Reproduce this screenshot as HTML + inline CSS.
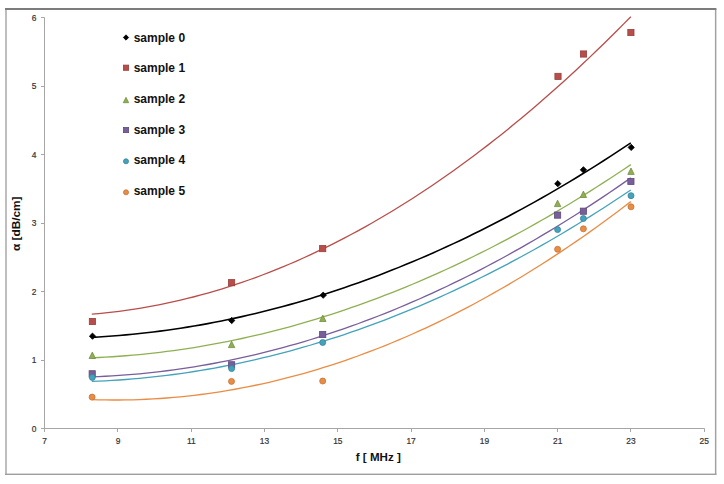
<!DOCTYPE html>
<html><head><meta charset="utf-8"><style>
html,body{margin:0;padding:0;background:#fff;}
body{width:724px;height:484px;overflow:hidden;}
svg{display:block;}
.tk{font-family:"Liberation Sans",sans-serif;font-size:8.4px;fill:#333;stroke:#333;stroke-width:0.2px;}
.lg{font-family:"Liberation Sans",sans-serif;font-size:12px;font-weight:bold;fill:#111;}
.at{font-family:"Liberation Sans",sans-serif;font-size:10px;font-weight:bold;fill:#111;}
</style></head><body>
<svg width="724" height="484" viewBox="0 0 724 484">
<rect x="0" y="0" width="724" height="484" fill="#fff"/>
<rect x="5" y="9" width="2" height="466" fill="#BEBEBE"/>
<rect x="714.9" y="9" width="1.5" height="466" fill="#A2A2A2"/>
<rect x="5" y="473.6" width="711.4" height="1.4" fill="#9E9E9E"/>
<rect x="5" y="8" width="711.4" height="2" fill="#7C7C7C"/>
<path d="M44.5 17.5V428.5H704.5" fill="none" stroke="#A6A6A6" stroke-width="1"/>
<path d="M41 428.5H44.5" stroke="#A6A6A6" stroke-width="1"/>
<path d="M41 360.5H44.5" stroke="#A6A6A6" stroke-width="1"/>
<path d="M41 291.5H44.5" stroke="#A6A6A6" stroke-width="1"/>
<path d="M41 223.5H44.5" stroke="#A6A6A6" stroke-width="1"/>
<path d="M41 154.5H44.5" stroke="#A6A6A6" stroke-width="1"/>
<path d="M41 86.5H44.5" stroke="#A6A6A6" stroke-width="1"/>
<path d="M41 17.5H44.5" stroke="#A6A6A6" stroke-width="1"/>
<path d="M44.5 428.5V432" stroke="#A6A6A6" stroke-width="1"/>
<path d="M117.5 428.5V432" stroke="#A6A6A6" stroke-width="1"/>
<path d="M191.5 428.5V432" stroke="#A6A6A6" stroke-width="1"/>
<path d="M264.5 428.5V432" stroke="#A6A6A6" stroke-width="1"/>
<path d="M337.5 428.5V432" stroke="#A6A6A6" stroke-width="1"/>
<path d="M411.5 428.5V432" stroke="#A6A6A6" stroke-width="1"/>
<path d="M484.5 428.5V432" stroke="#A6A6A6" stroke-width="1"/>
<path d="M557.5 428.5V432" stroke="#A6A6A6" stroke-width="1"/>
<path d="M630.5 428.5V432" stroke="#A6A6A6" stroke-width="1"/>
<path d="M704.5 428.5V432" stroke="#A6A6A6" stroke-width="1"/>
<text x="36.3" y="431.7" text-anchor="end" class="tk">0</text>
<text x="36.3" y="363.2" text-anchor="end" class="tk">1</text>
<text x="36.3" y="294.7" text-anchor="end" class="tk">2</text>
<text x="36.3" y="226.2" text-anchor="end" class="tk">3</text>
<text x="36.3" y="157.7" text-anchor="end" class="tk">4</text>
<text x="36.3" y="89.2" text-anchor="end" class="tk">5</text>
<text x="36.3" y="20.7" text-anchor="end" class="tk">6</text>
<text x="44.7" y="444" text-anchor="middle" class="tk">7</text>
<text x="118.0" y="444" text-anchor="middle" class="tk">9</text>
<text x="191.3" y="444" text-anchor="middle" class="tk">11</text>
<text x="264.5" y="444" text-anchor="middle" class="tk">13</text>
<text x="337.8" y="444" text-anchor="middle" class="tk">15</text>
<text x="411.1" y="444" text-anchor="middle" class="tk">17</text>
<text x="484.4" y="444" text-anchor="middle" class="tk">19</text>
<text x="557.7" y="444" text-anchor="middle" class="tk">21</text>
<text x="630.9" y="444" text-anchor="middle" class="tk">23</text>
<text x="704.2" y="444" text-anchor="middle" class="tk">25</text>
<text x="378.3" y="460.8" text-anchor="middle" class="at" textLength="45" lengthAdjust="spacingAndGlyphs">f [ MHz ]</text>
<text transform="translate(20.3,223.7) rotate(-90)" text-anchor="middle" class="at" textLength="54.5" lengthAdjust="spacingAndGlyphs">&#945; [dB/cm]</text>
<polyline points="91.80,337.35 98.62,336.97 105.45,336.54 112.27,336.05 119.09,335.51 125.91,334.91 132.74,334.26 139.56,333.56 146.38,332.80 153.21,332.00 160.03,331.13 166.85,330.22 173.67,329.25 180.50,328.23 187.32,327.15 194.14,326.03 200.96,324.84 207.79,323.61 214.61,322.32 221.43,320.98 228.26,319.58 235.08,318.13 241.90,316.63 248.72,315.08 255.55,313.47 262.37,311.81 269.19,310.09 276.02,308.32 282.84,306.50 289.66,304.63 296.48,302.70 303.31,300.72 310.13,298.68 316.95,296.59 323.77,294.45 330.60,292.26 337.42,290.01 344.24,287.71 351.07,285.35 357.89,282.94 364.71,280.48 371.53,277.97 378.36,275.40 385.18,272.78 392.00,270.10 398.83,267.37 405.65,264.59 412.47,261.76 419.29,258.87 426.12,255.93 432.94,252.93 439.76,249.88 446.58,246.78 453.41,243.63 460.23,240.42 467.05,237.16 473.88,233.84 480.70,230.48 487.52,227.05 494.34,223.58 501.17,220.05 507.99,216.47 514.81,212.83 521.64,209.15 528.46,205.40 535.28,201.61 542.10,197.76 548.93,193.86 555.75,189.91 562.57,185.90 569.39,181.84 576.22,177.72 583.04,173.55 589.86,169.33 596.69,165.06 603.51,160.73 610.33,156.35 617.15,151.91 623.98,147.42 630.80,142.88" fill="none" stroke="#000000" stroke-width="1.6"/>
<polyline points="91.80,314.12 98.62,313.53 105.45,312.86 112.27,312.11 119.09,311.28 125.91,310.36 132.74,309.37 139.56,308.29 146.38,307.14 153.21,305.90 160.03,304.58 166.85,303.17 173.67,301.69 180.50,300.12 187.32,298.48 194.14,296.75 200.96,294.94 207.79,293.05 214.61,291.08 221.43,289.02 228.26,286.89 235.08,284.67 241.90,282.37 248.72,279.99 255.55,277.53 262.37,274.99 269.19,272.36 276.02,269.66 282.84,266.87 289.66,264.00 296.48,261.05 303.31,258.02 310.13,254.90 316.95,251.71 323.77,248.43 330.60,245.08 337.42,241.64 344.24,238.12 351.07,234.51 357.89,230.83 364.71,227.07 371.53,223.22 378.36,219.29 385.18,215.28 392.00,211.19 398.83,207.02 405.65,202.76 412.47,198.43 419.29,194.01 426.12,189.51 432.94,184.93 439.76,180.27 446.58,175.53 453.41,170.70 460.23,165.80 467.05,160.81 473.88,155.74 480.70,150.59 487.52,145.36 494.34,140.05 501.17,134.65 507.99,129.18 514.81,123.62 521.64,117.98 528.46,112.26 535.28,106.46 542.10,100.57 548.93,94.61 555.75,88.56 562.57,82.43 569.39,76.23 576.22,69.93 583.04,63.56 589.86,57.11 596.69,50.57 603.51,43.96 610.33,37.26 617.15,30.48 623.98,23.62 630.80,16.67" fill="none" stroke="#B94D4A" stroke-width="1.3"/>
<polyline points="91.80,357.80 98.62,357.50 105.45,357.15 112.27,356.74 119.09,356.27 125.91,355.75 132.74,355.18 139.56,354.54 146.38,353.86 153.21,353.12 160.03,352.32 166.85,351.47 173.67,350.57 180.50,349.61 187.32,348.59 194.14,347.52 200.96,346.39 207.79,345.21 214.61,343.98 221.43,342.69 228.26,341.34 235.08,339.94 241.90,338.49 248.72,336.98 255.55,335.41 262.37,333.79 269.19,332.12 276.02,330.38 282.84,328.60 289.66,326.76 296.48,324.86 303.31,322.91 310.13,320.91 316.95,318.85 323.77,316.73 330.60,314.56 337.42,312.34 344.24,310.06 351.07,307.72 357.89,305.33 364.71,302.88 371.53,300.38 378.36,297.83 385.18,295.22 392.00,292.55 398.83,289.83 405.65,287.06 412.47,284.23 419.29,281.34 426.12,278.40 432.94,275.41 439.76,272.36 446.58,269.25 453.41,266.09 460.23,262.88 467.05,259.61 473.88,256.28 480.70,252.90 487.52,249.47 494.34,245.98 501.17,242.43 507.99,238.83 514.81,235.18 521.64,231.47 528.46,227.70 535.28,223.88 542.10,220.01 548.93,216.08 555.75,212.09 562.57,208.05 569.39,203.95 576.22,199.80 583.04,195.60 589.86,191.34 596.69,187.02 603.51,182.65 610.33,178.23 617.15,173.75 623.98,169.22 630.80,164.63" fill="none" stroke="#8FB052" stroke-width="1.3"/>
<polyline points="91.80,376.83 98.62,376.57 105.45,376.25 112.27,375.87 119.09,375.43 125.91,374.94 132.74,374.39 139.56,373.78 146.38,373.11 153.21,372.39 160.03,371.61 166.85,370.77 173.67,369.87 180.50,368.91 187.32,367.90 194.14,366.83 200.96,365.70 207.79,364.51 214.61,363.26 221.43,361.96 228.26,360.60 235.08,359.18 241.90,357.70 248.72,356.17 255.55,354.57 262.37,352.92 269.19,351.22 276.02,349.45 282.84,347.63 289.66,345.74 296.48,343.80 303.31,341.81 310.13,339.75 316.95,337.64 323.77,335.46 330.60,333.24 337.42,330.95 344.24,328.60 351.07,326.20 357.89,323.74 364.71,321.22 371.53,318.64 378.36,316.01 385.18,313.32 392.00,310.57 398.83,307.76 405.65,304.89 412.47,301.97 419.29,298.99 426.12,295.95 432.94,292.85 439.76,289.70 446.58,286.48 453.41,283.21 460.23,279.89 467.05,276.50 473.88,273.05 480.70,269.55 487.52,265.99 494.34,262.37 501.17,258.70 507.99,254.96 514.81,251.17 521.64,247.32 528.46,243.42 535.28,239.45 542.10,235.43 548.93,231.35 555.75,227.21 562.57,223.01 569.39,218.76 576.22,214.44 583.04,210.07 589.86,205.64 596.69,201.16 603.51,196.61 610.33,192.01 617.15,187.35 623.98,182.64 630.80,177.86" fill="none" stroke="#785E9A" stroke-width="1.3"/>
<polyline points="91.80,381.47 98.62,381.19 105.45,380.85 112.27,380.46 119.09,380.02 125.91,379.52 132.74,378.97 139.56,378.36 146.38,377.69 153.21,376.97 160.03,376.20 166.85,375.37 173.67,374.49 180.50,373.55 187.32,372.55 194.14,371.50 200.96,370.40 207.79,369.24 214.61,368.02 221.43,366.76 228.26,365.43 235.08,364.05 241.90,362.62 248.72,361.13 255.55,359.59 262.37,357.99 269.19,356.33 276.02,354.62 282.84,352.86 289.66,351.04 296.48,349.17 303.31,347.24 310.13,345.25 316.95,343.22 323.77,341.12 330.60,338.97 337.42,336.77 344.24,334.51 351.07,332.20 357.89,329.83 364.71,327.40 371.53,324.93 378.36,322.39 385.18,319.80 392.00,317.16 398.83,314.46 405.65,311.71 412.47,308.90 419.29,306.04 426.12,303.12 432.94,300.14 439.76,297.12 446.58,294.03 453.41,290.89 460.23,287.70 467.05,284.45 473.88,281.15 480.70,277.79 487.52,274.38 494.34,270.91 501.17,267.39 507.99,263.81 514.81,260.18 521.64,256.49 528.46,252.74 535.28,248.95 542.10,245.09 548.93,241.19 555.75,237.22 562.57,233.20 569.39,229.13 576.22,225.00 583.04,220.82 589.86,216.58 596.69,212.29 603.51,207.94 610.33,203.54 617.15,199.08 623.98,194.57 630.80,190.00" fill="none" stroke="#44A2BB" stroke-width="1.3"/>
<polyline points="91.80,399.62 98.62,399.82 105.45,399.95 112.27,400.01 119.09,400.00 125.91,399.92 132.74,399.78 139.56,399.56 146.38,399.27 153.21,398.92 160.03,398.49 166.85,398.00 173.67,397.43 180.50,396.80 187.32,396.10 194.14,395.33 200.96,394.48 207.79,393.57 214.61,392.59 221.43,391.54 228.26,390.43 235.08,389.24 241.90,387.98 248.72,386.65 255.55,385.26 262.37,383.79 269.19,382.26 276.02,380.65 282.84,378.98 289.66,377.24 296.48,375.42 303.31,373.54 310.13,371.59 316.95,369.57 323.77,367.48 330.60,365.32 337.42,363.09 344.24,360.79 351.07,358.43 357.89,355.99 364.71,353.48 371.53,350.91 378.36,348.26 385.18,345.55 392.00,342.76 398.83,339.91 405.65,336.99 412.47,334.00 419.29,330.94 426.12,327.81 432.94,324.61 439.76,321.34 446.58,318.00 453.41,314.59 460.23,311.11 467.05,307.57 473.88,303.95 480.70,300.26 487.52,296.51 494.34,292.69 501.17,288.79 507.99,284.83 514.81,280.80 521.64,276.70 528.46,272.52 535.28,268.28 542.10,263.97 548.93,259.60 555.75,255.15 562.57,250.63 569.39,246.04 576.22,241.39 583.04,236.66 589.86,231.86 596.69,227.00 603.51,222.07 610.33,217.06 617.15,211.99 623.98,206.85 630.80,201.64" fill="none" stroke="#EA8C44" stroke-width="1.3"/>
<path d="M92.50 333.05L95.65 336.20L92.50 339.35L89.35 336.20Z" fill="#000000" stroke="#000000" stroke-width="0.8"/>
<path d="M231.70 317.35L234.85 320.50L231.70 323.65L228.55 320.50Z" fill="#000000" stroke="#000000" stroke-width="0.8"/>
<path d="M323.20 292.05L326.35 295.20L323.20 298.35L320.05 295.20Z" fill="#000000" stroke="#000000" stroke-width="0.8"/>
<path d="M557.80 180.55L560.95 183.70L557.80 186.85L554.65 183.70Z" fill="#000000" stroke="#000000" stroke-width="0.8"/>
<path d="M583.40 166.65L586.55 169.80L583.40 172.95L580.25 169.80Z" fill="#000000" stroke="#000000" stroke-width="0.8"/>
<path d="M631.20 144.25L634.35 147.40L631.20 150.55L628.05 147.40Z" fill="#000000" stroke="#000000" stroke-width="0.8"/>
<rect x="89.30" y="318.40" width="6.20" height="6.20" fill="#B94D4A" stroke="#94403D" stroke-width="0.8"/>
<rect x="228.50" y="279.60" width="6.20" height="6.20" fill="#B94D4A" stroke="#94403D" stroke-width="0.8"/>
<rect x="319.60" y="245.50" width="6.20" height="6.20" fill="#B94D4A" stroke="#94403D" stroke-width="0.8"/>
<rect x="554.90" y="73.30" width="6.20" height="6.20" fill="#B94D4A" stroke="#94403D" stroke-width="0.8"/>
<rect x="580.40" y="50.90" width="6.20" height="6.20" fill="#B94D4A" stroke="#94403D" stroke-width="0.8"/>
<rect x="627.80" y="29.40" width="6.20" height="6.20" fill="#B94D4A" stroke="#94403D" stroke-width="0.8"/>
<path d="M92.30 352.10L95.50 358.50L89.10 358.50Z" fill="#8FB052" stroke="#738D42" stroke-width="0.8"/>
<path d="M231.60 341.20L234.80 347.60L228.40 347.60Z" fill="#8FB052" stroke="#738D42" stroke-width="0.8"/>
<path d="M322.80 315.10L326.00 321.50L319.60 321.50Z" fill="#8FB052" stroke="#738D42" stroke-width="0.8"/>
<path d="M557.60 200.20L560.80 206.60L554.40 206.60Z" fill="#8FB052" stroke="#738D42" stroke-width="0.8"/>
<path d="M583.40 191.10L586.60 197.50L580.20 197.50Z" fill="#8FB052" stroke="#738D42" stroke-width="0.8"/>
<path d="M631.00 168.00L634.20 174.40L627.80 174.40Z" fill="#8FB052" stroke="#738D42" stroke-width="0.8"/>
<rect x="89.10" y="370.70" width="6.20" height="6.20" fill="#785E9A" stroke="#5F4A7C" stroke-width="0.8"/>
<rect x="228.50" y="361.70" width="6.20" height="6.20" fill="#785E9A" stroke="#5F4A7C" stroke-width="0.8"/>
<rect x="319.60" y="331.40" width="6.20" height="6.20" fill="#785E9A" stroke="#5F4A7C" stroke-width="0.8"/>
<rect x="554.50" y="212.00" width="6.20" height="6.20" fill="#785E9A" stroke="#5F4A7C" stroke-width="0.8"/>
<rect x="580.30" y="208.10" width="6.20" height="6.20" fill="#785E9A" stroke="#5F4A7C" stroke-width="0.8"/>
<rect x="627.80" y="178.40" width="6.20" height="6.20" fill="#785E9A" stroke="#5F4A7C" stroke-width="0.8"/>
<circle cx="92.30" cy="377.40" r="3.0" fill="#44A2BB" stroke="#368399" stroke-width="0.8"/>
<circle cx="231.60" cy="368.60" r="3.0" fill="#44A2BB" stroke="#368399" stroke-width="0.8"/>
<circle cx="322.70" cy="342.50" r="3.0" fill="#44A2BB" stroke="#368399" stroke-width="0.8"/>
<circle cx="557.60" cy="229.60" r="3.0" fill="#44A2BB" stroke="#368399" stroke-width="0.8"/>
<circle cx="583.40" cy="218.50" r="3.0" fill="#44A2BB" stroke="#368399" stroke-width="0.8"/>
<circle cx="631.00" cy="195.70" r="3.0" fill="#44A2BB" stroke="#368399" stroke-width="0.8"/>
<circle cx="92.10" cy="397.10" r="3.0" fill="#EA8C44" stroke="#C47437" stroke-width="0.8"/>
<circle cx="231.50" cy="381.40" r="3.0" fill="#EA8C44" stroke="#C47437" stroke-width="0.8"/>
<circle cx="322.70" cy="381.00" r="3.0" fill="#EA8C44" stroke="#C47437" stroke-width="0.8"/>
<circle cx="557.60" cy="249.30" r="3.0" fill="#EA8C44" stroke="#C47437" stroke-width="0.8"/>
<circle cx="583.40" cy="228.80" r="3.0" fill="#EA8C44" stroke="#C47437" stroke-width="0.8"/>
<circle cx="631.00" cy="206.80" r="3.0" fill="#EA8C44" stroke="#C47437" stroke-width="0.8"/>
<path d="M126.00 34.85L128.65 37.50L126.00 40.15L123.35 37.50Z" fill="#000000" stroke="#000000" stroke-width="0.8"/>
<text x="133.7" y="41.8" class="lg">sample 0</text>
<rect x="123.40" y="65.10" width="5.21" height="5.21" fill="#B94D4A" stroke="#94403D" stroke-width="0.8"/>
<text x="133.7" y="71.9" class="lg">sample 1</text>
<path d="M126.00 97.31L128.69 102.69L123.31 102.69Z" fill="#8FB052" stroke="#738D42" stroke-width="0.8"/>
<text x="133.7" y="103.2" class="lg">sample 2</text>
<rect x="123.40" y="127.40" width="5.21" height="5.21" fill="#785E9A" stroke="#5F4A7C" stroke-width="0.8"/>
<text x="133.7" y="133.7" class="lg">sample 3</text>
<circle cx="126.00" cy="161.30" r="2.52" fill="#44A2BB" stroke="#368399" stroke-width="0.8"/>
<text x="133.7" y="164.4" class="lg">sample 4</text>
<circle cx="126.00" cy="192.30" r="2.52" fill="#EA8C44" stroke="#C47437" stroke-width="0.8"/>
<text x="133.7" y="194.9" class="lg">sample 5</text>
</svg>
</body></html>
